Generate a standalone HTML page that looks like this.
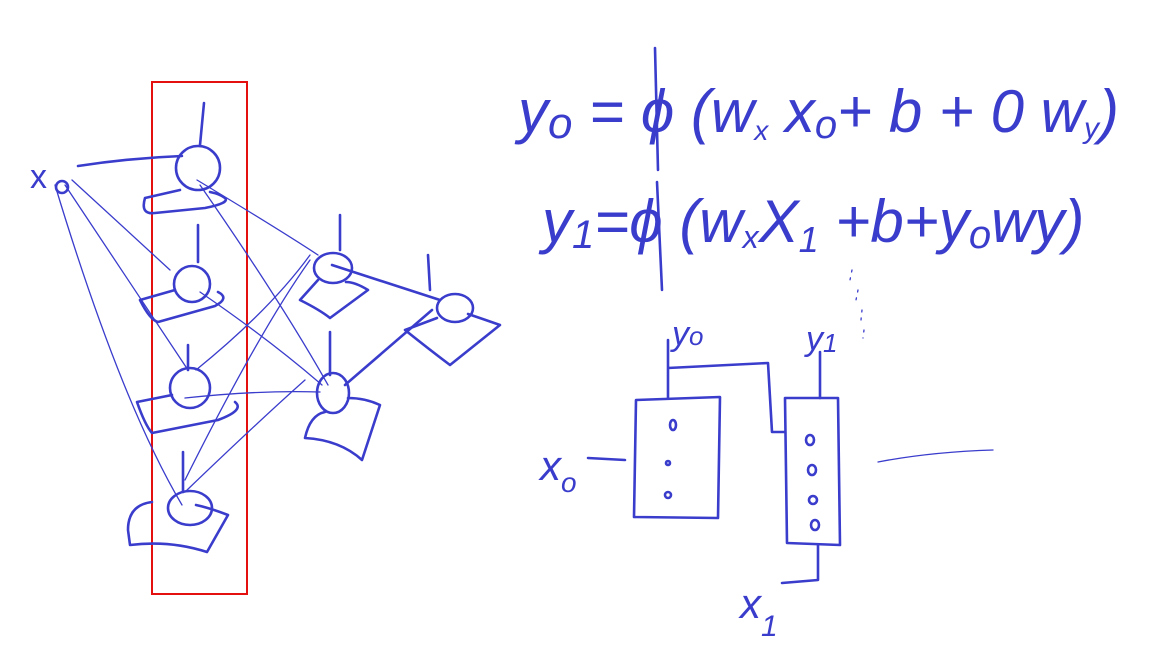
<!DOCTYPE html>
<html><head><meta charset="utf-8"><style>
html,body{margin:0;padding:0;background:#fff;width:1157px;height:664px;overflow:hidden}
svg{display:block}
.s{fill:none;stroke:#3a3ccc;stroke-width:2.6;stroke-linecap:round;stroke-linejoin:round}
.t{fill:none;stroke:#3a3ccc;stroke-width:1.3;stroke-linecap:round}
.h{fill:#3a3ccc;font-family:"Liberation Sans",sans-serif;font-weight:normal}
</style></head><body>
<svg width="1157" height="664" viewBox="0 0 1157 664">
<rect x="152" y="82" width="95" height="512" fill="none" stroke="#e41010" stroke-width="2"/>
<g>
<text class="h" x="30" y="188" font-size="34">x</text>
<circle class="s" cx="62" cy="187" r="6"/>
<path class="s" d="M78 166 Q130 158 182 156"/>
<path class="t" d="M72 180 L170 270 M65 185 L188 370 M55 185 Q120 400 182 505"/>
<path class="t" d="M197 180 Q280 230 318 255 M200 185 Q280 300 328 385 M200 292 Q270 340 322 385 M196 370 Q270 310 310 255 M185 398 Q260 390 320 392 M185 480 Q260 330 310 260 M185 492 Q260 420 305 380"/>
<path class="s" d="M332 265 L440 300 M345 385 L432 310"/>
<g><circle class="s" cx="198" cy="168" r="22"/><path class="s" d="M200 145 L204 103 M180 190 L145 198 Q140 215 155 213 L205 208 Q230 203 225 198 Q220 194 210 192"/></g>
<g><circle class="s" cx="192" cy="284" r="18"/><path class="s" d="M198 262 L198 225 M175 290 L140 300 Q150 320 158 322 L215 306 Q230 298 218 292"/></g>
<g><circle class="s" cx="190" cy="388" r="20"/><path class="s" d="M188 370 L188 345 M172 395 L137 402 Q145 425 152 433 L218 420 Q245 410 235 402"/></g>
<g><ellipse class="s" cx="190" cy="508" rx="22" ry="17"/><path class="s" d="M183 492 L183 452 M152 502 Q128 505 128 530 L130 545 Q170 540 207 552 L228 515 Q210 508 196 505"/></g>
<g><ellipse class="s" cx="333" cy="268" rx="19" ry="15"/><path class="s" d="M340 250 L340 215 M318 280 L300 300 Q320 310 330 318 L368 290 Q355 282 346 282"/></g>
<g><ellipse class="s" cx="333" cy="393" rx="16" ry="20"/><path class="s" d="M330 375 L330 332 M325 412 Q310 415 305 438 Q340 440 362 460 L380 405 Q365 398 348 398"/></g>
<g><ellipse class="s" cx="455" cy="308" rx="18" ry="14"/><path class="s" d="M430 290 L428 255 M437 318 L405 330 Q430 350 450 365 L500 325 Q480 318 468 314"/></g>
</g>
<g>
<text class="h" x="518" y="132" font-size="60" font-style="italic">y<tspan font-size="44" dy="6">o</tspan><tspan dy="-6"> = ϕ (w</tspan><tspan font-size="28" dy="8">x</tspan><tspan dy="-8"> x</tspan><tspan font-size="40" dy="6">o</tspan><tspan dy="-6">+ b + 0 w</tspan><tspan font-size="30" dy="6">y</tspan><tspan dy="-6">)</tspan></text>
<text class="h" x="542" y="242" font-size="60" font-style="italic">y<tspan font-size="40" dy="6">1</tspan><tspan dy="-6">=ϕ (w</tspan><tspan font-size="32" dy="6">x</tspan><tspan dy="-6">X</tspan><tspan font-size="36" dy="10">1</tspan><tspan dy="-10"> +b+y</tspan><tspan font-size="40" dy="6">o</tspan><tspan dy="-6">wy)</tspan></text>
<path class="s" d="M655 48 L658 170 M657 182 L662 290"/>
<path class="t" d="M852 270 L850 280 M858 290 L856 300 M862 310 L861 320 M864 330 L863 338" stroke-dasharray="2 6"/>
</g>
<g>
<text class="h" x="672" y="345" font-size="34" font-style="italic">y<tspan font-size="26">o</tspan></text>
<text class="h" x="806" y="350" font-size="34" font-style="italic">y<tspan font-size="26" dy="2">1</tspan></text>
<text class="h" x="540" y="480" font-size="42" font-style="italic">x<tspan font-size="28" dy="12">o</tspan></text>
<text class="h" x="740" y="618" font-size="42" font-style="italic">x<tspan font-size="30" dy="18">1</tspan></text>
<path class="s" d="M636 400 L720 397 L718 518 L634 517 Z"/>
<path class="s" d="M785 398 L838 398 L840 545 L787 543 Z"/>
<path class="s" d="M668 340 L668 398 M668 368 L768 363 L772 432 L785 432 M820 352 L820 398 M588 458 L625 460 M818 545 L818 580 L782 583"/>
<path class="t" d="M878 462 Q930 452 993 450" stroke-width="2"/>
<ellipse class="s" cx="673" cy="425" rx="3" ry="5"/><circle class="s" cx="668" cy="463" r="2"/><circle class="s" cx="668" cy="495" r="3"/>
<ellipse class="s" cx="810" cy="440" rx="4" ry="5"/><ellipse class="s" cx="812" cy="470" rx="4" ry="5"/><ellipse class="s" cx="813" cy="500" rx="4" ry="4"/><ellipse class="s" cx="815" cy="525" rx="4" ry="5"/>
</g>
</svg>
</body></html>
